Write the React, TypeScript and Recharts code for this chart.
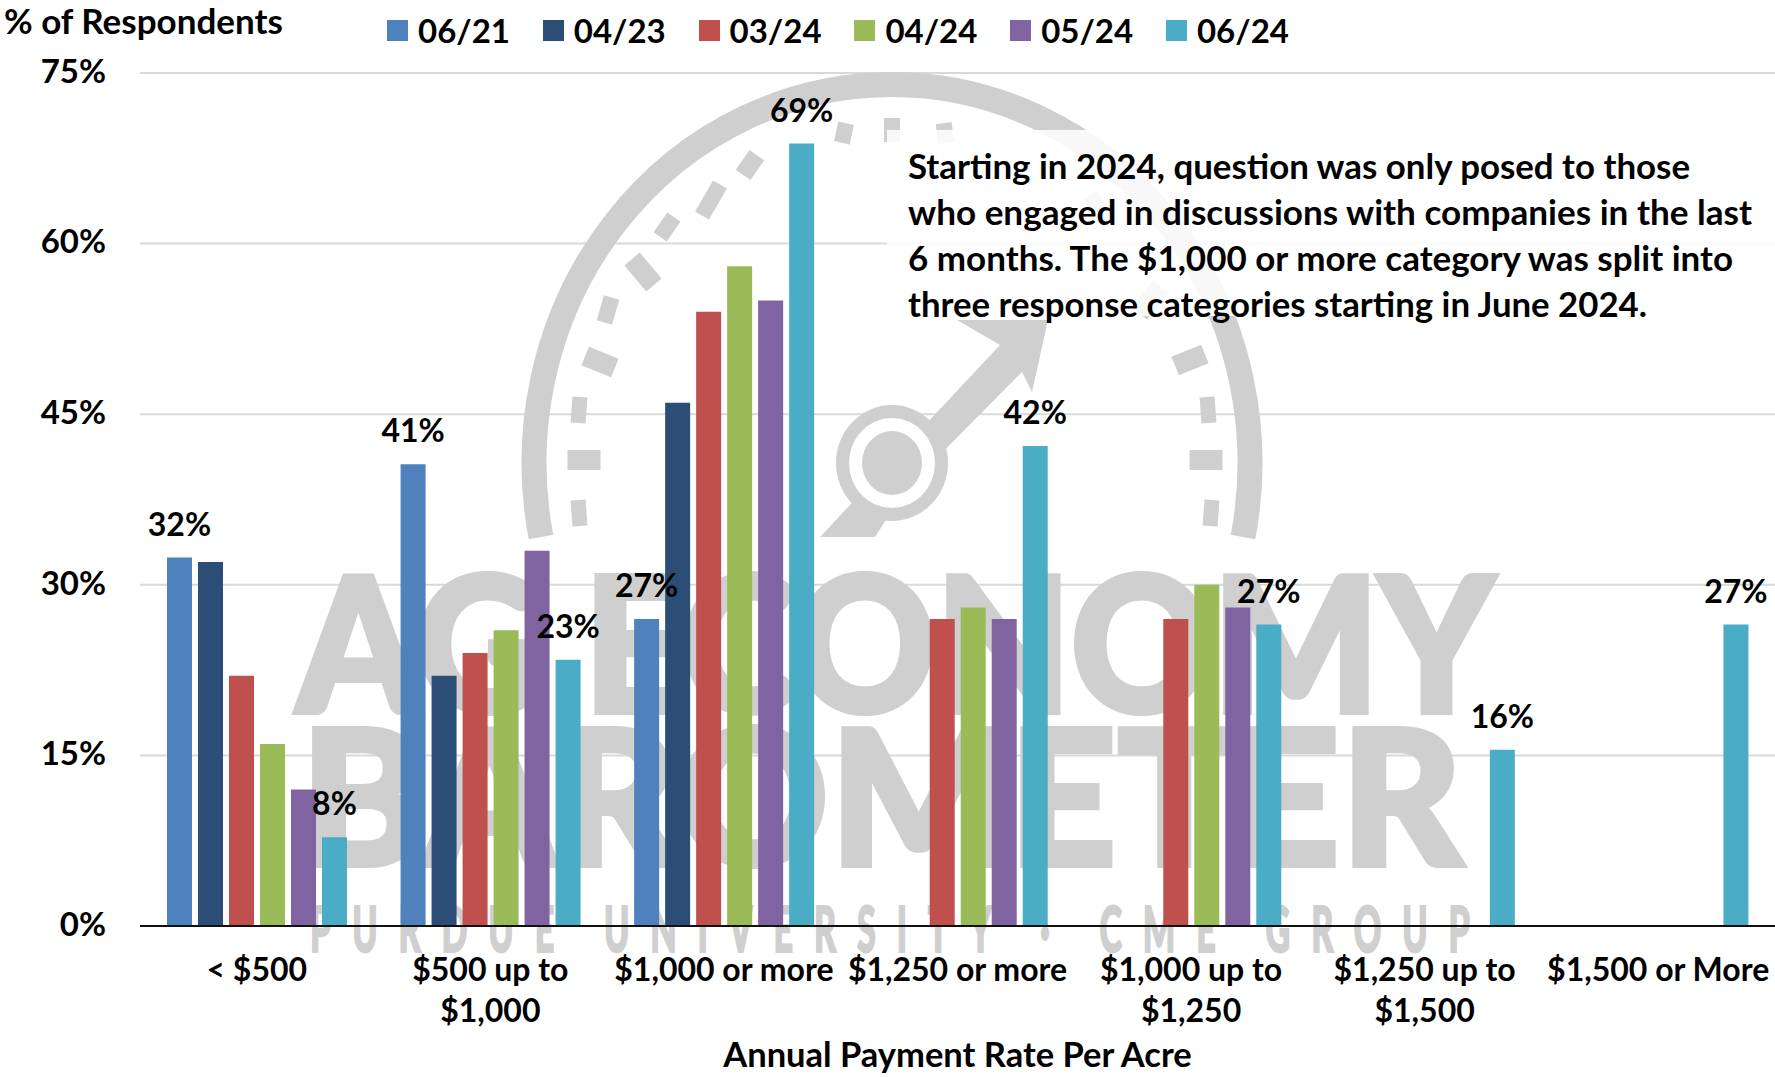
import { BarChart, Bar, XAxis, YAxis, CartesianGrid, LabelList, Legend, Label } from "recharts";

const categories = [
  "< $500",
  "$500 up to $1,000",
  "$1,000 or more",
  "$1,250 or more",
  "$1,000 up to $1,250",
  "$1,250 up to $1,500",
  "$1,500 or More",
];
const jun21 = [32.4, 40.6, 27, null, null, null, null];
const apr23 = [32, 22, 46, null, null, null, null];
const mar24 = [22, 24, 54, 27, 27, null, null];
const apr24 = [16, 26, 58, 28, 30, null, null];
const may24 = [12, 33, 55, 27, 28, null, null];
const jun24 = [7.8, 23.4, 68.8, 42.2, 26.5, 15.5, 26.5];
const yTicks = [0, 15, 30, 45, 60, 75];

const noteLines = [
  "Starting in 2024, question was only posed to those",
  "who engaged in discussions with companies in the last",
  "6 months. The $1,000 or more category was split into",
  "three response categories starting in June 2024.",
];
const noteWidths = [782, 844, 825, 739];

// dial marks of the watermark: x, y, w, h, rotation
const dialMarks = [
  [584, 460, 33, 20, 0], [579, 410, 15, 26, 4], [579, 513, 15, 26, -4],
  [600, 362, 32, 20, 22], [608, 310, 16, 26, 16], [643, 272, 34, 20, 50],
  [667, 227, 16, 24, 35], [711, 200, 16, 36, 30], [750, 165, 18, 24, 35],
  [844, 133, 16, 20, 12], [892, 130, 16, 24, 0], [945, 133, 16, 20, -8],
  [1206, 460, 33, 20, 0], [1208, 410, 15, 26, -4], [1211, 513, 15, 26, 4],
  [1190, 360, 32, 20, -22], [1150, 300, 34, 20, -50], [1100, 210, 16, 36, -35],
];

const data = categories.map((name, i) => ({
  name,
  "06/21": jun21[i],
  "04/23": apr23[i],
  "03/24": mar24[i],
  "04/24": apr24[i],
  "05/24": may24[i],
  "06/24": jun24[i],
}));

const font = "Lato, sans-serif";
const gray = "#cfcfcf";

const pct = (v: any) => (v === null || v === undefined ? "" : `${Math.round(v)}%`);

const CategoryTick = ({ x, y, payload }: any) => {
  const parts = payload.value.includes(" up to ")
    ? [payload.value.split(" up to ")[0] + " up to", payload.value.split(" up to ")[1]]
    : [payload.value];
  return (
    <text x={x} y={y} textAnchor="middle" fontFamily={font} fontWeight={700} fontSize={32} fill="#000">
      {parts.map((p: string, i: number) => (
        <tspan key={i} x={x} y={y + 47 + i * 41}>
          {p}
        </tspan>
      ))}
    </text>
  );
};

const LegendRow = ({ payload }: any) => (
  <div style={{ display: "flex", fontFamily: font, fontWeight: 700, fontSize: 33, color: "#000" }}>
    {payload.map((p: any) => (
      <div key={p.value} style={{ width: 155.8, display: "flex", alignItems: "center", height: 40 }}>
        <span style={{ width: 21, height: 21, background: p.color, marginRight: 10 }} />
        {p.value}
      </div>
    ))}
  </div>
);

const Watermark = () => (
  <g>
    <path d="M 541 537 A 358 378 0 1 1 1243 537" fill="none" stroke={gray} strokeWidth={25} />
    {dialMarks.map(([x, y, w, h, r], i) => (
      <rect key={i} x={x - w / 2} y={y - h / 2} width={w} height={h} fill={gray} transform={`rotate(${r} ${x} ${y})`} />
    ))}
    <path d="M 1048 320 L 957 320 L 1000 345 L 850 505 L 820 537 L 875 537 L 905 490 L 1022 372 L 1032 392 Z" fill={gray} />
    <ellipse cx={892} cy={463} rx={56} ry={58} fill={gray} />
    <ellipse cx={892} cy={463} rx={43} ry={45} fill="#fff" />
    <ellipse cx={892} cy={463} rx={30} ry={32} fill={gray} />
    <text x={297} y={712} textLength={1197} lengthAdjust="spacingAndGlyphs" fontFamily={font} fontWeight={900} fontSize={186} fill={gray} stroke={gray} strokeWidth={6}>
      AG ECONOMY
    </text>
    <text x={301} y={865} textLength={1161} lengthAdjust="spacing" fontFamily={font} fontWeight={900} fontSize={186} fill={gray} stroke={gray} strokeWidth={6}>
      BAROMETER
    </text>
    <text
      transform="translate(310 952) scale(0.55 1)"
      textLength={2109}
      lengthAdjust="spacing"
      fontFamily={font}
      fontWeight={900}
      fontSize={62}
      fill={gray}
      stroke={gray}
      strokeWidth={2}
    >
      PURDUE UNIVERSITY · CME GROUP
    </text>
  </g>
);

const App = () => {
  const series = [
    { key: "06/21", color: "#4f81bd", label: true },
    { key: "04/23", color: "#2c4d75", label: false },
    { key: "03/24", color: "#c0504d", label: false },
    { key: "04/24", color: "#9bbb59", label: false },
    { key: "05/24", color: "#8064a2", label: false },
    { key: "06/24", color: "#4bacc6", label: true },
  ];
  return (
    <div style={{ position: "absolute", left: 0, top: 0, width: 1775, height: 1077, background: "#fff", overflow: "hidden" }}>
      <BarChart
        width={1775}
        height={1077}
        data={data}
        margin={{ top: 73, right: 0, bottom: 0, left: 0 }}
        barSize={25}
        barGap={6}
      >
        <Watermark />
        <CartesianGrid vertical={false} stroke="#d9d9d9" strokeWidth={2} />
        <rect x={887} y={130} width={888} height={186} fill="#fff" fillOpacity={0.85} />
        <XAxis
          dataKey="name"
          height={151}
          interval={0}
          tick={<CategoryTick />}
          tickLine={false}
          axisLine={{ stroke: "#111", strokeWidth: 2 }}
        >
          <Label
            value="Annual Payment Rate Per Acre"
            position="insideBottom"
            offset={10}
            style={{ fontFamily: font, fontWeight: 700, fontSize: 34.5, fill: "#000" }}
          />
        </XAxis>
        <YAxis
          width={140}
          domain={[0, 75]}
          ticks={yTicks}
          tickFormatter={(v: number) => `${v}%`}
          tickLine={false}
          axisLine={false}
          tickMargin={28}
          tick={{ fontFamily: font, fontWeight: 700, fontSize: 33, fill: "#000", dy: -2 }}
        />
        <Legend
          verticalAlign="middle"
          itemSorter={null}
          content={<LegendRow />}
          wrapperStyle={{ left: 387, top: 10, width: 960 }}
        />
        {series.map((s) => (
          <Bar key={s.key} dataKey={s.key} fill={s.color} isAnimationActive={false}>
            {s.label && (
              <LabelList
                dataKey={s.key}
                position="top"
                offset={22}
                formatter={pct}
                style={{ fontFamily: font, fontWeight: 700, fontSize: 32, fill: "#000" }}
              />
            )}
          </Bar>
        ))}
        <text x={4} y={34} fontFamily={font} fontWeight={700} fontSize={35} fill="#000">
          % of Respondents
        </text>
        {noteLines.map((line, i) => (
          <text
            key={line}
            x={908}
            y={179 + i * 46}
            textLength={noteWidths[i]}
            lengthAdjust="spacingAndGlyphs"
            fontFamily={font}
            fontWeight={700}
            fontSize={35}
            fill="#000"
          >
            {line}
          </text>
        ))}
      </BarChart>
    </div>
  );
};

export default App;
